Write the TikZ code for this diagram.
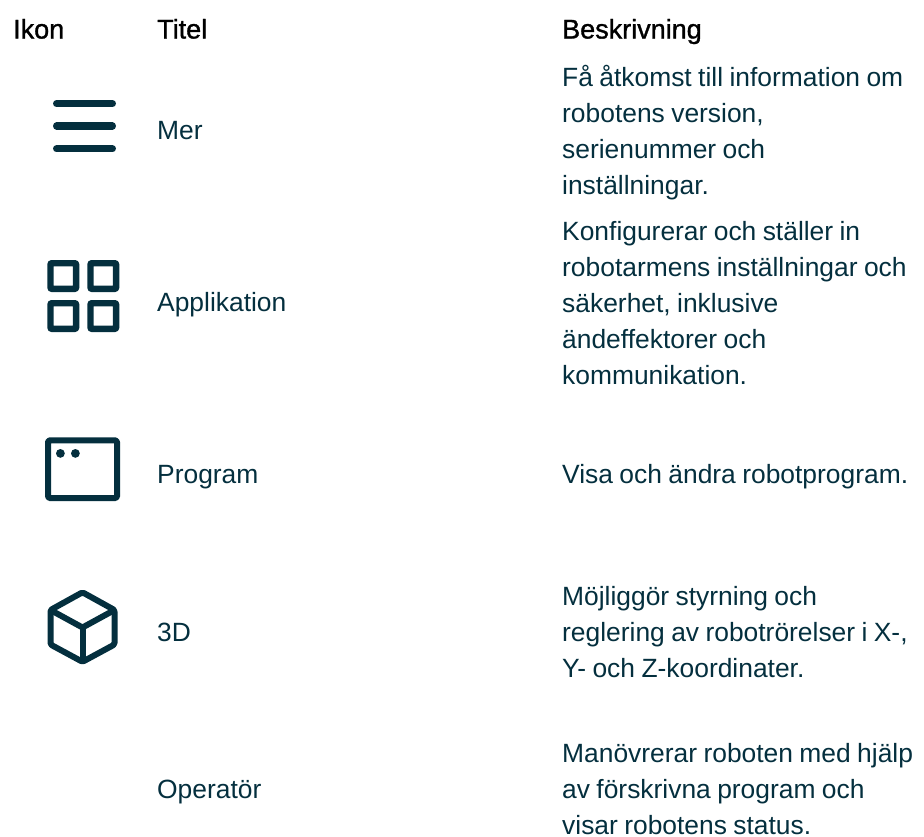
\documentclass[tikz,border=0pt]{standalone}
\usepackage{fontspec}
\setmainfont{Liberation Sans}
\newfontfamily\hdrfont[FakeBold=1.2]{Liberation Sans}
\definecolor{ink}{HTML}{042F3E}
\newcommand\tightwords{\spaceskip 6.4pt\relax\xspaceskip 6.4pt\relax}
\tikzset{
  hdr/.style={anchor=base west,inner sep=0pt,text=black,font=\hdrfont\fontsize{27}{36}\selectfont},
  lbl/.style={anchor=base west,inner sep=0pt,text=ink,font=\fontsize{26.4}{36}\selectfont},
  desc/.style={lbl,text width=362pt,align=left,execute at begin node=\tightwords},
  ico/.style={draw=ink,line width=6pt,line join=round,rounded corners=1.5pt},
  gridbox/.style={ico,line width=6.4pt,rounded corners=0.8pt},
  bar/.style={draw=ink,line width=7.2pt,line cap=round},
}
\begin{document}
\begin{tikzpicture}[x=1pt,y=-1pt]
\useasboundingbox (0,0) rectangle (924,836);
\node[hdr] (hIkon) at (13,38.5) {Ikon};
\node[hdr] (hTitel) at (157,38.5) {Titel};
\node[hdr] (hBesk) at (562,38.5) {Beskrivning};
% menu
\draw[bar] (56.6,103.6) -- (112.4,103.6);
\draw[bar] (56.6,126) -- (112.4,126);
\draw[bar] (56.6,148.8) -- (112.4,148.8);
% grid
\draw[gridbox] (50.5,263.2) rectangle (76.1,288.8);
\draw[gridbox] (90.5,263.2) rectangle (116.1,288.8);
\draw[gridbox] (50.5,303.2) rectangle (76.1,328.8);
\draw[gridbox] (90.5,303.2) rectangle (116.1,328.8);
% window
\draw[ico] (48,440.3) rectangle (117,498);
\fill[ink] (60.4,453.4) circle (4.4pt) (75.4,453.4) circle (4.4pt);
% cube
\draw[ico] (82.5,592.3) -- (114.5,610) -- (114.5,644.5) -- (82.5,661.8) -- (50.5,644.5) -- (50.5,610) -- cycle;
\draw[ico] (50.5,610) -- (82.5,627.5) -- (114.5,610);
\draw[ico] (82.5,627.5) -- (82.5,661.8);
% titles
\node[lbl] (tMer) at (157,139) {Mer};
\node[lbl] (tApp) at (157,311) {Applikation};
\node[lbl] (tPrg) at (157,483) {Program};
\node[lbl] (t3D) at (157,641) {3D};
\node[lbl] (tOp) at (157,798) {Operatör};
% descriptions
\node[desc] (dMer) at (562,86) {Få åtkomst till information om\\robotens version,\\serienummer och\\inställningar.};
\node[desc] (dApp) at (562,240) {Konfigurerar och ställer in\\robotarmens inställningar och\\säkerhet, inklusive\\ändeffektorer och\\kommunikation.};
\node[desc] (dPrg) at (562,483) {Visa och ändra robotprogram.};
\node[desc] (d3D) at (562,605) {Möjliggör styrning och\\reglering av robotrörelser i X-,\\Y- och Z-koordinater.};
\node[desc] (dOp) at (562,762) {Manövrerar roboten med hjälp\\av förskrivna program och\\visar robotens status.};
\end{tikzpicture}
\end{document}
